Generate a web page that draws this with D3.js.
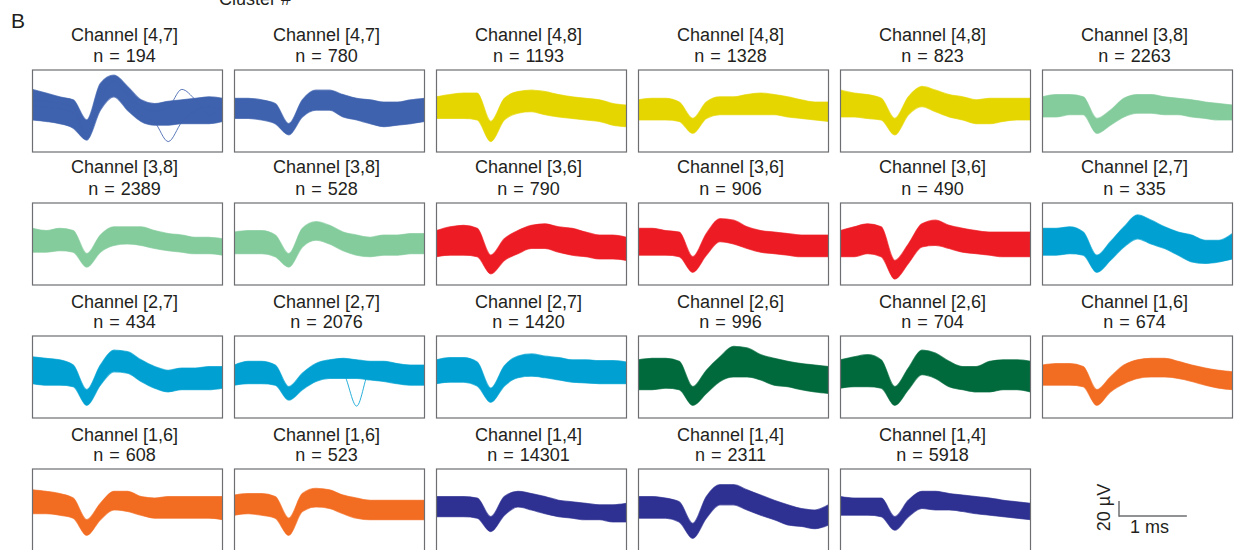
<!DOCTYPE html>
<html>
<head>
<meta charset="utf-8">
<script src="https://cdn.jsdelivr.net/npm/d3@7"></script>
<style>
    body { margin: 0; background: #fff; }
    text { font-family: "Liberation Sans", Arial, sans-serif; fill: #231f20; }
</style>
</head>
<body>
<svg id="fig" width="1237" height="550"></svg>
<script>
// sample times of the waveform snippets (ms)
var timeMs = [0, 0.2, 0.4, 0.6, 0.8, 1.0, 1.2, 1.4, 1.6, 1.8, 2.0, 2.2, 2.4, 2.6, 2.8];

var channels = ["[4,7]", "[4,7]", "[4,8]", "[4,8]", "[4,8]", "[3,8]",
                "[3,8]", "[3,8]", "[3,6]", "[3,6]", "[3,6]", "[2,7]",
                "[2,7]", "[2,7]", "[2,7]", "[2,6]", "[2,6]", "[1,6]",
                "[1,6]", "[1,6]", "[1,4]", "[1,4]", "[1,4]"];
var counts = [194, 780, 1193, 1328, 823, 2263,
              2389, 528, 790, 906, 490, 335,
              434, 2076, 1420, 996, 704, 674,
              608, 523, 14301, 2311, 5918];

// upper / lower envelope of the spike traces (µV), one row per cluster
var upperUV = [
    [14, 9, 4, 0, -27, 22, 33, 18, 0, -5, -2, 0, 2, 4, 2],
    [2, 2, 0, -5, -32, 0, 13, 13, 7, 2, 0, -3, -3, 0, 2],
    [4, 7, 9, 9, -29, 2, 11, 13, 11, 7, 4, 2, 0, -5, -7],
    [0, 2, 2, -3, -25, -3, 4, 4, 7, 9, 7, 4, 0, -3, -3],
    [13, 9, 7, 2, -25, 4, 18, 13, 7, 4, 0, 2, 2, 2, 2],
    [4, 7, 7, 4, -25, -14, 2, 7, 7, 4, 2, 0, -3, -5, -7],
    [6, 3, 6, 3, -28, -3, 8, 8, 8, 3, -1, -3, -6, -6, -8],
    [1, 3, 3, -3, -28, 6, 15, 10, 1, -3, -6, -3, -3, -1, -1],
    [3, 8, 10, 6, -30, -8, 3, 10, 12, 8, 6, 1, -3, -3, -6],
    [6, 6, 3, 1, -32, -1, 19, 17, 8, 3, 1, -1, -3, -3, -3],
    [3, 8, 12, 8, -37, -15, 12, 17, 10, 6, 3, 1, 1, 1, 1],
    [6, 6, 8, 1, -30, -12, 8, 24, 17, 8, 1, -3, -10, -10, -1],
    [12, 10, 8, 1, -32, 1, 21, 19, 8, -1, -6, -3, -3, -1, -1],
    [1, 6, 6, 1, -28, -10, 3, 8, 10, 8, 6, 6, 3, 1, 1],
    [8, 11, 11, 5, -30, 0, 13, 16, 13, 11, 8, 8, 7, 7, 5],
    [8, 10, 10, 6, -28, -6, 12, 26, 24, 15, 10, 6, 3, 1, -1],
    [8, 12, 15, 8, -28, -3, 21, 17, 6, -1, -1, 6, 8, 8, 6],
    [1, 3, 3, -1, -32, -15, 1, 8, 10, 10, 6, 1, -3, -6, -8],
    [12, 10, 7, 1, -28, -6, 10, 10, 3, 1, 3, 3, 3, 3, 3],
    [5, 7, 7, 3, -26, 7, 14, 12, 5, 1, -2, -2, -2, -2, -2],
    [3, 3, 3, 1, -24, 3, 10, 7, 3, -2, -4, -6, -8, -8, -6],
    [3, 3, 1, -4, -33, 3, 19, 19, 12, 5, -2, -8, -13, -15, -8],
    [3, 1, 1, 1, -24, -2, 10, 10, 7, 5, 3, 1, -2, -4, -6]
];
var lowerUV = [
    [-27, -29, -32, -38, -54, -14, 4, -14, -29, -34, -34, -32, -32, -32, -29],
    [-25, -25, -27, -32, -47, -23, -14, -14, -23, -27, -32, -36, -34, -32, -29],
    [-25, -25, -25, -27, -56, -27, -18, -16, -20, -23, -25, -27, -29, -34, -36],
    [-27, -27, -27, -29, -45, -25, -20, -20, -20, -20, -20, -23, -25, -27, -29],
    [-23, -23, -25, -27, -47, -20, -9, -16, -23, -27, -32, -32, -29, -27, -27],
    [-23, -23, -20, -20, -45, -34, -23, -18, -18, -20, -20, -23, -25, -27, -27],
    [-26, -26, -24, -26, -46, -26, -17, -15, -17, -21, -24, -26, -28, -28, -30],
    [-28, -28, -28, -32, -46, -19, -10, -15, -24, -30, -32, -30, -30, -28, -28],
    [-32, -30, -30, -32, -55, -37, -28, -21, -21, -26, -30, -32, -35, -35, -37],
    [-30, -30, -30, -32, -53, -30, -12, -15, -21, -26, -28, -30, -32, -32, -32],
    [-32, -32, -28, -32, -62, -41, -19, -17, -21, -26, -28, -30, -32, -32, -32],
    [-30, -30, -28, -30, -53, -37, -19, -8, -15, -21, -30, -39, -41, -39, -35],
    [-24, -26, -26, -28, -53, -26, -8, -10, -21, -30, -35, -32, -32, -32, -30],
    [-26, -24, -24, -26, -46, -32, -21, -17, -17, -17, -19, -21, -24, -26, -26],
    [-24, -22, -22, -27, -49, -27, -16, -14, -16, -19, -22, -23, -24, -24, -24],
    [-32, -32, -30, -32, -53, -37, -21, -15, -15, -19, -26, -28, -32, -35, -37],
    [-30, -28, -28, -30, -53, -32, -12, -17, -28, -32, -35, -35, -32, -32, -35],
    [-26, -26, -26, -28, -53, -35, -24, -17, -15, -15, -17, -21, -26, -30, -32],
    [-20, -20, -22, -26, -49, -28, -15, -17, -22, -26, -26, -26, -26, -26, -28],
    [-22, -20, -22, -26, -49, -17, -11, -13, -20, -26, -28, -28, -28, -28, -28],
    [-24, -24, -24, -26, -44, -22, -11, -15, -20, -24, -26, -28, -28, -31, -31],
    [-26, -26, -26, -31, -53, -26, -8, -8, -15, -22, -28, -35, -37, -40, -35],
    [-22, -22, -22, -24, -42, -24, -13, -15, -15, -17, -20, -22, -24, -26, -28]
];
// a few outlying traces that stick out of the bands
var strayPanel = [0, 0, 13];
var strayUV = [
    [-8, -10, -12, -18, -50, 0, 25, 5, -20, -30, -56, -30, -15, -10, -12],
    [0, -2, -5, -10, -45, 10, 30, 10, -10, -15, -10, 14, 0, -20, -10],
    [-10, -8, -8, -12, -40, -20, -8, -4, -10, -54, -6, -6, -8, -10, -12]
];
var scaleBarUV = 20, scaleBarMs = 1;

var channelColor = {
    "[4,7]": "#3f62ae", "[4,8]": "#e5d600", "[3,8]": "#84cc9c", "[3,6]": "#ed1c24",
    "[2,7]": "#00a1d2", "[2,6]": "#006a3c", "[1,6]": "#f26c22", "[1,4]": "#2e3192"
};

var boxW = 190, boxH = 82, colStep = 202, rowStep = 133, left0 = 32.5, top0 = 70;
var titleDy = [[-29, -8], [-30, -8], [-28, -8], [-28, -8]];

var x = d3.scaleLinear().domain([0, 2.8]).range([0, boxW]);
var y = d3.scaleLinear().domain([-70, 40]).range([boxH, 0]);

var svg = d3.select("#fig");
svg.append("defs").append("clipPath").attr("id", "boxclip")
    .append("rect").attr("width", boxW).attr("height", boxH);

svg.append("text").attr("x", 255).attr("y", 5).attr("text-anchor", "middle")
    .attr("font-size", 18).text("Cluster #");
svg.append("text").attr("x", 11).attr("y", 28).attr("font-size", 21).text("B");

var band = d3.area()
    .x(function (d) { return x(d.t); })
    .y0(function (d) { return y(d.lo); })
    .y1(function (d) { return y(d.hi); })
    .curve(d3.curveMonotoneX);
var edge = function (key) {
    return d3.line()
        .x(function (d) { return x(d.t); })
        .y(function (d) { return y(d[key]); })
        .curve(d3.curveMonotoneX);
};
var trace = d3.line()
    .x(function (d, j) { return x(timeMs[j]); })
    .y(function (d) { return y(d); })
    .curve(d3.curveMonotoneX);

var panels = svg.selectAll("g.panel").data(d3.range(channels.length)).enter().append("g")
    .attr("class", "panel")
    .attr("transform", function (i) {
        return "translate(" + (left0 + (i % 6) * colStep) + "," + (top0 + Math.floor(i / 6) * rowStep) + ")";
    });

panels.each(function (i) {
    var g = d3.select(this);
    var col = channelColor[channels[i]];
    var row = Math.floor(i / 6);
    var pts = timeMs.map(function (t, j) { return { t: t, hi: upperUV[i][j], lo: lowerUV[i][j] }; });

    g.append("text").attr("x", boxW / 2 - 3).attr("y", titleDy[row][0])
        .attr("text-anchor", "middle").attr("font-size", 18).text("Channel " + channels[i]);
    g.append("text").attr("x", boxW / 2 - 3).attr("y", titleDy[row][1])
        .attr("text-anchor", "middle").attr("font-size", 18).attr("word-spacing", 1)
        .text("n = " + counts[i]);

    var w = g.append("g").attr("clip-path", "url(#boxclip)");
    w.append("path").attr("d", band(pts)).attr("fill", col);
    w.append("path").attr("d", edge("hi")(pts)).attr("fill", "none")
        .attr("stroke", col).attr("stroke-width", 1.2).attr("stroke-opacity", 0.7);
    w.append("path").attr("d", edge("lo")(pts)).attr("fill", "none")
        .attr("stroke", col).attr("stroke-width", 1.2).attr("stroke-opacity", 0.7);
    strayUV.forEach(function (s, k) {
        if (strayPanel[k] !== i) return;
        w.append("path").attr("d", trace(s)).attr("fill", "none")
            .attr("stroke", col).attr("stroke-width", 1).attr("stroke-opacity", 0.85);
    });

    g.append("rect").attr("width", boxW).attr("height", boxH)
        .attr("fill", "none").attr("stroke", "#6d6e71").attr("stroke-width", 1.2);
});

// scale bar
var sb = svg.append("g").attr("transform", "translate(1119,516)");
sb.append("line").attr("x1", 0).attr("y1", 0).attr("x2", x(scaleBarMs) - x(0)).attr("y2", 0)
    .attr("stroke", "#6d6e71").attr("stroke-width", 1.5);
sb.append("line").attr("x1", 0).attr("y1", 0.75).attr("x2", 0).attr("y2", -(y(0) - y(scaleBarUV)))
    .attr("stroke", "#6d6e71").attr("stroke-width", 1.5);
sb.append("text").attr("x", 11).attr("y", 17).attr("font-size", 18).text(scaleBarMs + " ms");
sb.append("text").attr("transform", "translate(-9,-8.5) rotate(-90)")
    .attr("text-anchor", "middle").attr("font-size", 18).text(scaleBarUV + " µV");
</script>
</body>
</html>
